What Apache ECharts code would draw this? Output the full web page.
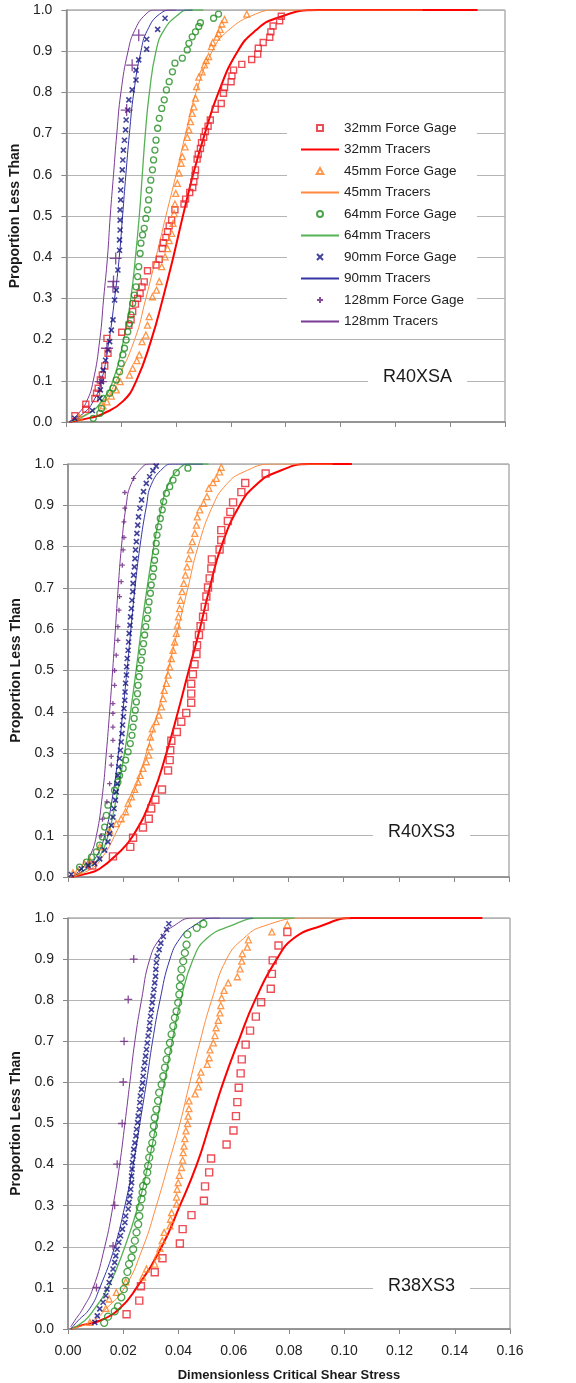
<!DOCTYPE html>
<html>
<head>
<meta charset="utf-8">
<script src="https://cdn.jsdelivr.net/npm/echarts@6/dist/echarts.min.js"></script>
<style>
    html, body {margin: 0; padding: 0; background: #fff;}
    #chart {width: 576px; height: 1383px;}
</style>
</head>
<body>
<div id="chart"></div>
<script>
// ---- series names (legend order) ----
const seriesNames = [
    '32mm Force Gage', '32mm Tracers',
    '45mm Force Gage', '45mm Tracers',
    '64mm Force Gage', '64mm Tracers',
    '90mm Force Gage', '90mm Tracers',
    '128mm Force Gage', '128mm Tracers'
];
const panelLabels = ['R40XSA', 'R40XS3', 'R38XS3'];

// ---- Panel 1 (R40XSA) ----
const p1_32G = [[0.0031,0.015],[0.0071,0.043],[0.0071,0.031],[0.0104,0.057],[0.011,0.07],[0.0116,0.082],[0.0124,0.102],[0.0131,0.114],[0.014,0.136],[0.0152,0.167],[0.0148,0.203],[0.0202,0.218],[0.0228,0.235],[0.0236,0.248],[0.0242,0.268],[0.0252,0.286],[0.026,0.30],[0.0269,0.312],[0.0276,0.328],[0.0284,0.34],[0.0296,0.367],[0.0327,0.381],[0.0339,0.395],[0.035,0.421],[0.0354,0.435],[0.0363,0.448],[0.0369,0.462],[0.0375,0.476],[0.0384,0.49],[0.0396,0.515],[0.0429,0.529],[0.0435,0.541],[0.045,0.557],[0.0461,0.569],[0.0465,0.583],[0.0469,0.598],[0.0471,0.612],[0.0477,0.638],[0.0481,0.65],[0.0489,0.664],[0.0493,0.678],[0.0501,0.691],[0.0507,0.705],[0.0517,0.718],[0.0525,0.733],[0.0543,0.759],[0.0565,0.773],[0.0573,0.798],[0.0577,0.812],[0.0601,0.826],[0.0604,0.84],[0.061,0.854],[0.064,0.868],[0.0676,0.88],[0.0698,0.893],[0.07,0.907],[0.0718,0.921],[0.0742,0.934],[0.0746,0.947],[0.0754,0.961],[0.0778,0.974],[0.0784,0.985]];
const p1_32T = [[0.001,0],[0.0086,0.01],[0.0134,0.02],[0.0206,0.05],[0.0255,0.1],[0.031,0.2],[0.0352,0.3],[0.039,0.4],[0.0425,0.5],[0.0462,0.6],[0.0505,0.7],[0.0555,0.8],[0.0625,0.9],[0.069,0.95],[0.0765,0.98],[0.092,1.0],[0.150,1.0]];
const p1_45G = [[0.0047,0.012],[0.0134,0.039],[0.0148,0.049],[0.0164,0.063],[0.0182,0.078],[0.0196,0.098],[0.023,0.114],[0.0242,0.13],[0.0257,0.149],[0.0266,0.163],[0.0276,0.195],[0.029,0.211],[0.0296,0.235],[0.0302,0.256],[0.0314,0.304],[0.0329,0.32],[0.0339,0.341],[0.0348,0.377],[0.036,0.401],[0.0369,0.421],[0.0375,0.44],[0.0384,0.458],[0.0389,0.482],[0.0393,0.506],[0.0396,0.529],[0.0399,0.555],[0.0405,0.579],[0.0411,0.604],[0.0419,0.628],[0.0423,0.644],[0.0433,0.668],[0.0441,0.691],[0.0447,0.709],[0.0453,0.729],[0.0459,0.749],[0.0465,0.765],[0.0471,0.786],[0.0475,0.814],[0.0483,0.837],[0.0495,0.85],[0.0504,0.867],[0.051,0.877],[0.0519,0.887],[0.0529,0.911],[0.0534,0.921],[0.0549,0.934],[0.0555,0.943],[0.0561,0.953],[0.0567,0.966],[0.0577,0.977],[0.0658,0.99]];
const p1_45T = [[0.001,0],[0.0074,0.02],[0.0134,0.05],[0.0182,0.1],[0.0249,0.2],[0.029,0.3],[0.0327,0.4],[0.0363,0.5],[0.040,0.6],[0.0435,0.7],[0.0473,0.8],[0.0532,0.9],[0.059,0.95],[0.069,0.99],[0.077,1.0],[0.13,1.0]];
const p1_64G = [[0.0098,0.009],[0.0122,0.021],[0.0128,0.033],[0.0134,0.057],[0.0158,0.07],[0.017,0.082],[0.0182,0.102],[0.0194,0.122],[0.02,0.142],[0.0206,0.163],[0.0212,0.179],[0.0218,0.199],[0.0224,0.219],[0.023,0.239],[0.0236,0.26],[0.0242,0.288],[0.0248,0.308],[0.0254,0.328],[0.026,0.353],[0.0264,0.377],[0.0269,0.409],[0.0272,0.434],[0.0278,0.454],[0.0284,0.47],[0.029,0.494],[0.0296,0.515],[0.03,0.539],[0.0302,0.563],[0.0308,0.587],[0.0314,0.612],[0.0318,0.636],[0.0323,0.66],[0.0327,0.684],[0.0333,0.713],[0.0339,0.737],[0.0348,0.761],[0.0357,0.782],[0.0365,0.806],[0.0375,0.826],[0.0387,0.85],[0.0396,0.871],[0.0423,0.883],[0.0441,0.903],[0.0447,0.919],[0.0459,0.935],[0.0471,0.947],[0.0483,0.96],[0.0489,0.969],[0.0537,0.98],[0.0555,0.99]];
const p1_64T = [[0.001,0],[0.008,0.02],[0.0128,0.05],[0.017,0.1],[0.0209,0.2],[0.0235,0.3],[0.0252,0.4],[0.0266,0.5],[0.0277,0.6],[0.0288,0.7],[0.0303,0.8],[0.0327,0.9],[0.0355,0.95],[0.041,0.99],[0.0448,1.0],[0.05,1.0]];
const p1_90G = [[0.0031,0.009],[0.0095,0.028],[0.0122,0.057],[0.0124,0.078],[0.0128,0.098],[0.0134,0.126],[0.0143,0.15],[0.0152,0.175],[0.0158,0.195],[0.0164,0.223],[0.017,0.248],[0.0176,0.296],[0.0182,0.32],[0.0188,0.369],[0.0194,0.417],[0.0194,0.442],[0.0196,0.466],[0.0196,0.49],[0.0196,0.515],[0.0198,0.539],[0.0198,0.563],[0.02,0.587],[0.0204,0.612],[0.0206,0.636],[0.0208,0.66],[0.0212,0.684],[0.0216,0.709],[0.0218,0.733],[0.0224,0.757],[0.0228,0.782],[0.024,0.806],[0.0254,0.83],[0.0254,0.854],[0.0264,0.879],[0.0293,0.905],[0.0293,0.929],[0.0333,0.953],[0.036,0.98]];
const p1_90T = [[0.001,0],[0.006,0.02],[0.0098,0.05],[0.0128,0.1],[0.0156,0.2],[0.0176,0.3],[0.0193,0.4],[0.0205,0.5],[0.0217,0.6],[0.023,0.7],[0.0246,0.8],[0.0272,0.9],[0.0295,0.95],[0.034,0.99],[0.039,1.0],[0.046,1.0]];
const p1_128G = [[0.0126,0.098],[0.0148,0.179],[0.017,0.328],[0.0172,0.341],[0.018,0.397],[0.022,0.757],[0.024,0.866],[0.0264,0.939]];
const p1_128T = [[0.001,0],[0.0043,0.02],[0.0074,0.05],[0.0098,0.1],[0.0122,0.2],[0.0136,0.3],[0.015,0.4],[0.016,0.5],[0.0172,0.6],[0.0184,0.7],[0.0199,0.8],[0.0225,0.9],[0.0249,0.95],[0.029,0.99],[0.0327,1.0],[0.04,1.0]];

// ---- Panel 2 (R40XS3) ----
const p2_32G = [[0.0088,0.028],[0.0163,0.05],[0.0226,0.073],[0.0236,0.095],[0.0272,0.12],[0.0293,0.141],[0.0302,0.166],[0.0317,0.187],[0.0341,0.212],[0.0363,0.258],[0.0369,0.283],[0.0371,0.307],[0.0375,0.33],[0.0395,0.351],[0.0411,0.376],[0.0429,0.397],[0.0447,0.422],[0.0447,0.444],[0.0447,0.468],[0.0453,0.491],[0.0459,0.515],[0.0466,0.54],[0.0468,0.561],[0.0475,0.586],[0.0481,0.607],[0.049,0.63],[0.0496,0.654],[0.0502,0.679],[0.0508,0.701],[0.0514,0.723],[0.052,0.747],[0.0522,0.769],[0.055,0.793],[0.0556,0.816],[0.0556,0.84],[0.058,0.862],[0.0589,0.884],[0.0599,0.907],[0.0629,0.932],[0.0643,0.954],[0.0717,0.977]];
const p2_32T = [[0.001,0],[0.0079,0.01],[0.0115,0.02],[0.017,0.05],[0.0236,0.1],[0.0308,0.2],[0.0357,0.3],[0.0399,0.4],[0.0438,0.5],[0.0478,0.6],[0.0514,0.7],[0.0556,0.8],[0.0623,0.9],[0.0683,0.95],[0.0756,0.98],[0.0877,1.0],[0.103,1.0]];
const p2_45G = [[0.0018,0.01],[0.0036,0.015],[0.006,0.032],[0.0079,0.04],[0.0115,0.073],[0.0151,0.112],[0.0175,0.129],[0.0193,0.141],[0.0209,0.158],[0.0218,0.178],[0.023,0.194],[0.0242,0.212],[0.0254,0.23],[0.0262,0.246],[0.0272,0.263],[0.0284,0.279],[0.0293,0.295],[0.0296,0.315],[0.0299,0.339],[0.0306,0.359],[0.032,0.376],[0.033,0.392],[0.0339,0.412],[0.0345,0.432],[0.0349,0.452],[0.0357,0.469],[0.0363,0.489],[0.0369,0.509],[0.0375,0.529],[0.0381,0.549],[0.0387,0.569],[0.0393,0.59],[0.0397,0.61],[0.0401,0.63],[0.0405,0.65],[0.0408,0.67],[0.0414,0.691],[0.042,0.711],[0.0426,0.731],[0.0432,0.751],[0.0438,0.771],[0.0444,0.792],[0.0451,0.812],[0.046,0.832],[0.0466,0.852],[0.0469,0.872],[0.0478,0.889],[0.0492,0.905],[0.0504,0.921],[0.0511,0.941],[0.0526,0.955],[0.0538,0.965],[0.055,0.981],[0.0556,0.992]];
const p2_45T = [[0.001,0],[0.0085,0.02],[0.0127,0.05],[0.0169,0.1],[0.0236,0.2],[0.0284,0.3],[0.0326,0.4],[0.0363,0.5],[0.0399,0.6],[0.0435,0.7],[0.0472,0.8],[0.0526,0.9],[0.0574,0.95],[0.0635,0.98],[0.0744,1.0],[0.096,1.0]];
const p2_64G = [[0.0042,0.024],[0.0067,0.036],[0.0085,0.048],[0.0103,0.061],[0.0115,0.077],[0.0125,0.097],[0.0133,0.121],[0.0139,0.149],[0.0145,0.174],[0.0169,0.21],[0.0181,0.23],[0.0187,0.246],[0.02,0.263],[0.0209,0.283],[0.0218,0.303],[0.0226,0.323],[0.0232,0.343],[0.0236,0.363],[0.024,0.384],[0.0244,0.404],[0.0248,0.424],[0.0252,0.444],[0.0254,0.464],[0.0258,0.485],[0.026,0.505],[0.0266,0.525],[0.027,0.545],[0.0274,0.565],[0.0278,0.586],[0.0282,0.606],[0.0287,0.626],[0.029,0.646],[0.0294,0.666],[0.0299,0.687],[0.0302,0.707],[0.0308,0.727],[0.0311,0.747],[0.0314,0.767],[0.0318,0.788],[0.032,0.808],[0.0323,0.828],[0.0329,0.848],[0.0335,0.868],[0.0342,0.889],[0.0347,0.909],[0.0357,0.929],[0.0369,0.945],[0.0381,0.961],[0.0393,0.979],[0.0435,0.99]];
const p2_64T = [[0.001,0],[0.007,0.02],[0.0115,0.05],[0.0145,0.1],[0.0178,0.2],[0.0205,0.3],[0.0227,0.4],[0.0247,0.5],[0.0266,0.6],[0.0287,0.7],[0.0311,0.8],[0.0341,0.9],[0.0363,0.95],[0.0405,0.99],[0.0441,1.0],[0.051,1.0]];
const p2_90G = [[0.0012,0.006],[0.0048,0.02],[0.0073,0.028],[0.0097,0.032],[0.0115,0.044],[0.0133,0.065],[0.0145,0.085],[0.0151,0.105],[0.0157,0.125],[0.0163,0.145],[0.0167,0.166],[0.0172,0.186],[0.0175,0.206],[0.0179,0.226],[0.0181,0.246],[0.0184,0.267],[0.0187,0.287],[0.019,0.307],[0.0193,0.327],[0.0196,0.347],[0.0198,0.368],[0.0201,0.388],[0.0203,0.408],[0.0206,0.428],[0.0207,0.448],[0.0209,0.469],[0.0212,0.489],[0.0213,0.509],[0.0215,0.529],[0.0218,0.549],[0.022,0.569],[0.0222,0.59],[0.0225,0.61],[0.0227,0.63],[0.023,0.65],[0.0232,0.67],[0.0235,0.691],[0.0236,0.711],[0.0238,0.731],[0.0241,0.751],[0.0243,0.771],[0.0245,0.792],[0.0248,0.812],[0.025,0.832],[0.0253,0.852],[0.0256,0.872],[0.0261,0.893],[0.0267,0.913],[0.0274,0.933],[0.0284,0.953],[0.0296,0.969],[0.0308,0.984],[0.032,0.995]];
const p2_90T = [[0.001,0],[0.0065,0.02],[0.0103,0.05],[0.0133,0.1],[0.0163,0.2],[0.0183,0.3],[0.0199,0.4],[0.0214,0.5],[0.0228,0.6],[0.0243,0.7],[0.0261,0.8],[0.0285,0.9],[0.0302,0.95],[0.0345,0.99],[0.038,1.0],[0.049,1.0]];
const p2_128G = [[0.012,0.1],[0.0125,0.14],[0.0141,0.182],[0.0151,0.226],[0.0157,0.271],[0.0157,0.292],[0.0163,0.331],[0.0163,0.363],[0.0163,0.396],[0.0163,0.42],[0.0169,0.464],[0.0169,0.5],[0.0175,0.537],[0.0181,0.573],[0.0181,0.606],[0.0185,0.646],[0.0187,0.679],[0.0193,0.715],[0.0197,0.755],[0.02,0.792],[0.0203,0.822],[0.0203,0.86],[0.0206,0.893],[0.0206,0.931],[0.0238,0.965]];
const p2_128T = [[0.001,0],[0.005,0.02],[0.0079,0.05],[0.0103,0.1],[0.0125,0.2],[0.0139,0.3],[0.0151,0.4],[0.0162,0.5],[0.0172,0.6],[0.0182,0.7],[0.0194,0.8],[0.0211,0.9],[0.0228,0.95],[0.0266,0.99],[0.0296,1.0],[0.033,1.0]];

// ---- Panel 3 (R38XS3) ----
const p3_32G = [[0.0212,0.036],[0.0258,0.069],[0.0264,0.104],[0.0314,0.138],[0.0342,0.172],[0.0405,0.208],[0.0415,0.243],[0.0447,0.277],[0.0492,0.312],[0.0496,0.347],[0.0511,0.381],[0.0518,0.415],[0.0574,0.449],[0.0599,0.483],[0.0608,0.518],[0.0613,0.552],[0.0618,0.587],[0.0625,0.622],[0.0629,0.656],[0.0643,0.692],[0.0659,0.726],[0.068,0.76],[0.0699,0.795],[0.0734,0.828],[0.0738,0.864],[0.0741,0.897],[0.0762,0.933],[0.0794,0.966]];
const p3_32T = [[0.001,0],[0.0054,0.01],[0.0115,0.02],[0.0187,0.05],[0.0248,0.1],[0.0339,0.2],[0.0405,0.3],[0.0466,0.4],[0.0514,0.5],[0.0562,0.6],[0.0617,0.7],[0.0677,0.8],[0.0756,0.9],[0.0816,0.95],[0.0913,0.98],[0.1034,1.0],[0.15,1.0]];
const p3_45G = [[0.0079,0.016],[0.0137,0.05],[0.0149,0.073],[0.0175,0.089],[0.0209,0.115],[0.027,0.126],[0.0284,0.146],[0.0314,0.158],[0.0323,0.178],[0.0333,0.196],[0.0341,0.215],[0.0348,0.235],[0.0369,0.251],[0.0371,0.267],[0.0375,0.283],[0.0393,0.304],[0.0393,0.321],[0.0395,0.34],[0.0399,0.356],[0.0403,0.374],[0.0411,0.393],[0.0415,0.411],[0.0417,0.429],[0.042,0.445],[0.0423,0.463],[0.0427,0.482],[0.0433,0.5],[0.0435,0.518],[0.0438,0.536],[0.0438,0.555],[0.046,0.572],[0.0472,0.589],[0.0475,0.607],[0.0481,0.625],[0.0504,0.644],[0.0511,0.66],[0.0514,0.679],[0.0526,0.696],[0.0532,0.714],[0.0536,0.733],[0.0544,0.751],[0.055,0.769],[0.0553,0.787],[0.0556,0.806],[0.0565,0.824],[0.058,0.842],[0.0613,0.857],[0.0623,0.876],[0.0629,0.895],[0.0631,0.913],[0.0649,0.929],[0.0653,0.947],[0.0738,0.966],[0.0794,0.984]];
const p3_45T = [[0.001,0],[0.0091,0.02],[0.0139,0.05],[0.0205,0.1],[0.0272,0.2],[0.032,0.3],[0.0363,0.4],[0.0405,0.5],[0.0441,0.6],[0.0478,0.7],[0.052,0.8],[0.0574,0.9],[0.0635,0.95],[0.0707,0.98],[0.0865,1.0],[0.102,1.0]];
const p3_64G = [[0.0131,0.015],[0.0145,0.03],[0.0169,0.043],[0.0181,0.055],[0.0193,0.077],[0.0202,0.097],[0.0209,0.117],[0.0215,0.139],[0.0221,0.158],[0.023,0.174],[0.0236,0.194],[0.0242,0.215],[0.0248,0.235],[0.0254,0.255],[0.0258,0.275],[0.026,0.296],[0.0266,0.316],[0.027,0.332],[0.0272,0.348],[0.0284,0.36],[0.0287,0.381],[0.029,0.397],[0.0294,0.417],[0.0299,0.437],[0.0305,0.453],[0.0308,0.474],[0.0311,0.494],[0.0314,0.514],[0.032,0.534],[0.0326,0.555],[0.033,0.575],[0.0339,0.595],[0.0345,0.615],[0.0351,0.636],[0.0357,0.656],[0.0363,0.676],[0.0369,0.696],[0.0375,0.717],[0.0381,0.737],[0.0387,0.757],[0.0393,0.773],[0.0399,0.794],[0.0403,0.814],[0.0405,0.834],[0.0408,0.854],[0.0411,0.875],[0.0417,0.895],[0.0423,0.915],[0.0429,0.935],[0.0432,0.96],[0.0466,0.976],[0.049,0.986]];
const p3_64T = [[0.001,0],[0.006,0.02],[0.0097,0.05],[0.0145,0.1],[0.0206,0.2],[0.0254,0.3],[0.029,0.4],[0.032,0.5],[0.0349,0.6],[0.0377,0.7],[0.0408,0.8],[0.0453,0.9],[0.0502,0.95],[0.0586,0.98],[0.0695,1.0],[0.082,1.0]];
const p3_90G = [[0.0097,0.016],[0.0106,0.032],[0.0115,0.049],[0.0127,0.065],[0.0137,0.081],[0.0141,0.097],[0.0149,0.113],[0.0155,0.13],[0.0163,0.146],[0.0169,0.162],[0.0173,0.178],[0.0178,0.194],[0.0184,0.211],[0.019,0.227],[0.0197,0.243],[0.0206,0.259],[0.0209,0.275],[0.0218,0.292],[0.0221,0.308],[0.0224,0.324],[0.0227,0.34],[0.023,0.356],[0.023,0.372],[0.0232,0.389],[0.0233,0.405],[0.0236,0.421],[0.0238,0.437],[0.0242,0.453],[0.0246,0.47],[0.0248,0.486],[0.0252,0.502],[0.0254,0.518],[0.0258,0.534],[0.026,0.551],[0.0262,0.567],[0.0266,0.583],[0.027,0.599],[0.0272,0.615],[0.0274,0.632],[0.0278,0.648],[0.0281,0.664],[0.0284,0.68],[0.0287,0.696],[0.029,0.713],[0.0294,0.729],[0.0296,0.745],[0.0299,0.761],[0.0302,0.777],[0.0305,0.794],[0.0308,0.81],[0.0311,0.826],[0.0314,0.842],[0.0317,0.858],[0.0318,0.875],[0.032,0.891],[0.0323,0.907],[0.033,0.923],[0.0336,0.939],[0.0345,0.955],[0.0357,0.972],[0.0365,0.986]];
const p3_90T = [[0.001,0],[0.0036,0.02],[0.0079,0.05],[0.0115,0.1],[0.0169,0.2],[0.0206,0.3],[0.0236,0.4],[0.026,0.5],[0.0284,0.6],[0.0306,0.7],[0.0333,0.8],[0.0369,0.9],[0.0405,0.95],[0.0453,0.98],[0.0526,1.0],[0.067,1.0]];
const p3_128G = [[0.0103,0.101],[0.0163,0.202],[0.0169,0.301],[0.0178,0.401],[0.0196,0.5],[0.02,0.601],[0.0203,0.7],[0.0218,0.802],[0.0238,0.9]];
const p3_128T = [[0.001,0.005],[0.0024,0.02],[0.0054,0.05],[0.0091,0.1],[0.0133,0.2],[0.0163,0.3],[0.0187,0.4],[0.0206,0.5],[0.0224,0.6],[0.0242,0.7],[0.0266,0.8],[0.0296,0.9],[0.0333,0.95],[0.0381,0.98],[0.0453,1.0],[0.055,1.0]];

const panelData = [
    [p1_32G, p1_32T, p1_45G, p1_45T, p1_64G, p1_64T, p1_90G, p1_90T, p1_128G, p1_128T],
    [p2_32G, p2_32T, p2_45G, p2_45T, p2_64G, p2_64T, p2_90G, p2_90T, p2_128G, p2_128T],
    [p3_32G, p3_32T, p3_45G, p3_45T, p3_64G, p3_64T, p3_90G, p3_90T, p3_128G, p3_128T]
];

const FONT = '"Liberation Sans", Arial, sans-serif';

// marker shapes (paths so the legend keeps them square)
const SQUARE = 'path://M0,0L10,0L10,10L0,10Z';
const TRIANGLE = 'path://M5,0L10,9L0,9Z';
const CROSS = 'path://M0,0L10,10M10,0L0,10';
const PLUS = 'path://M5,0L5,10M0,5L10,5';

// gage marker style, and tracer line style, per size class
const gageStyle = [
    {symbol: SQUARE, color: '#E8202A', width: 1.4},
    {symbol: TRIANGLE, color: '#FF7C1C', width: 1.3},
    {symbol: 'circle', color: '#1E8C1E', width: 1.3},
    {symbol: CROSS, color: '#141482', width: 1.6},
    {symbol: PLUS, color: '#6A2080', width: 1.3}
];
const tracerStyle = [
    {color: '#FF0000', width: 2},
    {color: '#FF8A3D', width: 1},
    {color: '#55B255', width: 1.3},
    {color: '#3535A5', width: 1},
    {color: '#7A3A96', width: 1}
];
// marker sizes per panel [32,45,64,90,128]
const markerSizes = [
    [6, 6, 6, 5, 12],
    [7, 6, 6, 5, 5],
    [7, 6, 7, 5, 8]
];

const grids = [
    {left: 63, top: 10, width: 442, height: 412},
    {left: 68, top: 464, width: 441, height: 413},
    {left: 68, top: 918, width: 442, height: 412}
];

let series = [];
panelData.forEach(function (arrs, p) {
    for (let k = 0; k < 5; k++) {
        let g = gageStyle[k];
        let t = tracerStyle[k];
        series.push({
            name: seriesNames[2 * k + 1],
            type: 'line',
            xAxisIndex: p,
            yAxisIndex: p,
            data: arrs[2 * k + 1],
            symbol: 'none',
            showSymbol: false,
            smooth: 0.5,
            color: t.color,
            lineStyle: {color: t.color, width: t.width},
            z: 2
        });
        series.push({
            name: seriesNames[2 * k],
            type: 'scatter',
            xAxisIndex: p,
            yAxisIndex: p,
            data: arrs[2 * k],
            symbol: g.symbol,
            symbolSize: markerSizes[p][k],
            itemStyle: {color: 'rgba(0,0,0,0)', borderColor: g.color, borderWidth: g.width},
            z: 3
        });
    }
});

// legend entries: tracer lines drawn without the middle dot
const legendData = seriesNames.map(function (n, i) {
    if (i % 2 === 1) {
        return {name: n, itemStyle: {opacity: 0}};
    }
    return {name: n};
});

const xAxes = grids.map(function (g, i) {
    return {
        gridIndex: i,
        type: 'value',
        min: 0,
        max: 0.16,
        interval: 0.02,
        name: i === 2 ? 'Dimensionless Critical Shear Stress' : '',
        nameLocation: 'middle',
        nameGap: 40,
        nameTextStyle: {fontFamily: FONT, fontSize: 13, fontWeight: 'bold', color: '#1a1a1a'},
        axisLine: {show: true, lineStyle: {color: '#888', width: 1.5}},
        axisTick: {show: true, length: 5, lineStyle: {color: '#888'}},
        axisLabel: {
            show: i === 2,
            margin: 15,
            fontFamily: FONT,
            fontSize: 14,
            color: '#222',
            formatter: function (v) { return v.toFixed(2); }
        },
        splitLine: {show: false}
    };
});

const yAxes = grids.map(function (g, i) {
    return {
        gridIndex: i,
        type: 'value',
        min: 0,
        max: 1,
        interval: 0.1,
        name: 'Proportion Less Than',
        nameLocation: 'middle',
        nameGap: 44,
        nameTextStyle: {fontFamily: FONT, fontSize: 14, fontWeight: 'bold', color: '#1a1a1a'},
        axisLine: {show: true, lineStyle: {color: '#888', width: 1.5}},
        axisTick: {show: true, length: 5, lineStyle: {color: '#888'}},
        axisLabel: {
            margin: 14,
            fontFamily: FONT,
            fontSize: 14,
            color: '#222',
            formatter: function (v) { return v.toFixed(1); }
        },
        splitLine: {show: true, lineStyle: {color: '#b4b4b4', width: 1}}
    };
});

const labelTops = [367, 822, 1276];
const labelLefts = [368, 373, 373];

const myChart = echarts.init(document.getElementById('chart'));

const option = {
    animation: false,
    backgroundColor: '#fff',
    title: panelLabels.map(function (t, i) {
        return {
            text: t,
            left: labelLefts[i],
            top: labelTops[i],
            padding: [1, 15, 1, 15],
            backgroundColor: '#fff',
            textStyle: {fontFamily: FONT, fontSize: 18, fontWeight: 'normal', color: '#1a1a1a'}
        };
    }),
    legend: {
        orient: 'vertical',
        left: 287,
        top: 112,
        padding: [8, 13, 8, 13],
        backgroundColor: '#fff',
        itemWidth: 38,
        itemHeight: 6,
        itemGap: 5.5,
        selectedMode: false,
        textStyle: {fontFamily: FONT, fontSize: 13.5, color: '#222', lineHeight: 16},
        data: legendData
    },
    grid: grids.map(function (g) {
        return Object.assign({show: true, borderColor: '#888', borderWidth: 1, backgroundColor: 'transparent'}, g);
    }),
    xAxis: xAxes,
    yAxis: yAxes,
    series: series
};

myChart.setOption(option);
</script>
</body>
</html>
